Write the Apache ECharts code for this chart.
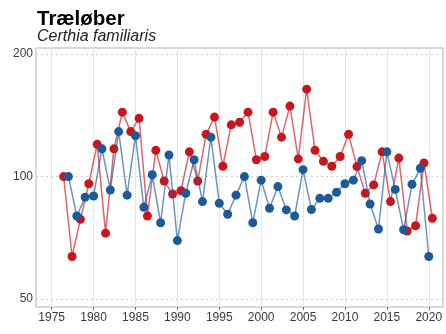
<!DOCTYPE html>
<html><head><meta charset="utf-8">
<script src="https://cdn.jsdelivr.net/npm/echarts@6/dist/echarts.min.js"></script>
<style>html,body{margin:0;padding:0;background:#fff}#c{width:446px;height:334px}</style>
</head><body><div id="c"></div>
<script>
const title = 'Træløber';
const subtitle = 'Certhia familiaris';
const redYears = [1976,1977,1978,1979,1980,1981,1982,1983,1984,1985,1986,1987,1988,1989,1990,1991,1992,1993,1994,1995,1996,1997,1998,1999,2000,2001,2002,2003,2004,2005,2006,2007,2008,2009,2010,2011,2012,2013,2014,2015,2016,2017,2018,2019,2020];
const redValues = [100,63.6,78.5,96,120,72.6,117,144,129,139,80,116,97.5,90.6,92.3,115,97.5,127,140,106,134,136,144,110,112,144,125,149,110.5,164,116,109,106,112,127,105.8,91,95.4,115,86.8,111,73.5,75.7,108,79];
const blueYears = [1977,1978,1979,1980,1981,1982,1983,1984,1985,1986,1987,1988,1989,1990,1991,1992,1993,1994,1995,1996,1997,1998,1999,2000,2001,2002,2003,2004,2005,2006,2007,2008,2009,2010,2011,2012,2013,2014,2015,2016,2017,2018,2019,2020];
const blueValues = [100,80,89,89.6,117,92.7,129,90,126,84,101,77,113,69.6,91,110,86.8,125,86,80.8,90,100,77,98,83.6,94.5,82.8,80,104,83,88.4,88.4,91.5,96,98,109.4,85.6,74.3,115,93,74,95.7,104.8,63.6];
const xTicks = [1975,1980,1985,1990,1995,2000,2005,2010,2015,2020];
const yTicks = [50,100,200];

const redOffset = 0.43;
const RED = '#c8161d', BLUE = '#1d5a9a';
const chart = echarts.init(document.getElementById('c'));
const font = 'Liberation Sans, Arial, sans-serif';
chart.setOption({
  animation: false,
  backgroundColor: '#fff',
  title: [
    {text: title, left: 32, top: 4, textStyle: {fontFamily: font, fontWeight: 'bold', fontSize: 20.5, color: '#000'}},
    {text: subtitle, left: 32, top: 24, textStyle: {fontFamily: font, fontStyle: 'italic', fontWeight: 'normal', fontSize: 16, color: '#222'}}
  ],
  grid: {left: 36, right: 3, top: 48, bottom: 27, show: true, borderColor: '#b3b3b3', borderWidth: 1},
  xAxis: {
    type: 'value', min: 1973.13, max: 2021.7,
    axisLine: {show: false},
    axisTick: {show: true, customValues: xTicks, length: 3, lineStyle: {color: '#666'}},
    axisLabel: {customValues: xTicks, formatter: v => String(v), fontFamily: font, fontSize: 12, color: '#3a3a3a', margin: 5},
    splitLine: {show: false}
  },
  yAxis: {
    type: 'log', logBase: 10, min: 47.8, max: 207,
    axisLine: {show: false},
    axisTick: {show: false, customValues: yTicks},
    axisLabel: {customValues: yTicks, formatter: v => String(v), fontFamily: font, fontSize: 12, color: '#3a3a3a', margin: 3},
    splitLine: {show: false}
  },
  series: [
    {type: 'line', data: [], silent: true, z: 0,
     markLine: {silent: true, z: 0, symbol: 'none', label: {show: false}, animation: false,
       data: xTicks.map(v => ({xAxis: v, lineStyle: {color: '#e6e6e6', width: 1, type: 'solid'}}))
         .concat(yTicks.map(v => ({yAxis: v, lineStyle: {color: '#cfcfcf', width: 1, type: [2, 3]}})))}},
    {type: 'line', data: redYears.map((y, i) => [y + redOffset, redValues[i]]),
     symbol: 'circle', symbolSize: 9, itemStyle: {color: RED},
     lineStyle: {color: RED, width: 1.5, opacity: 0.65}, z: 2},
    {type: 'line', data: blueYears.map((y, i) => [y, blueValues[i]]),
     symbol: 'circle', symbolSize: 9, itemStyle: {color: BLUE},
     lineStyle: {color: BLUE, width: 1.5, opacity: 0.65}, z: 3}
  ]
});
</script></body></html>
